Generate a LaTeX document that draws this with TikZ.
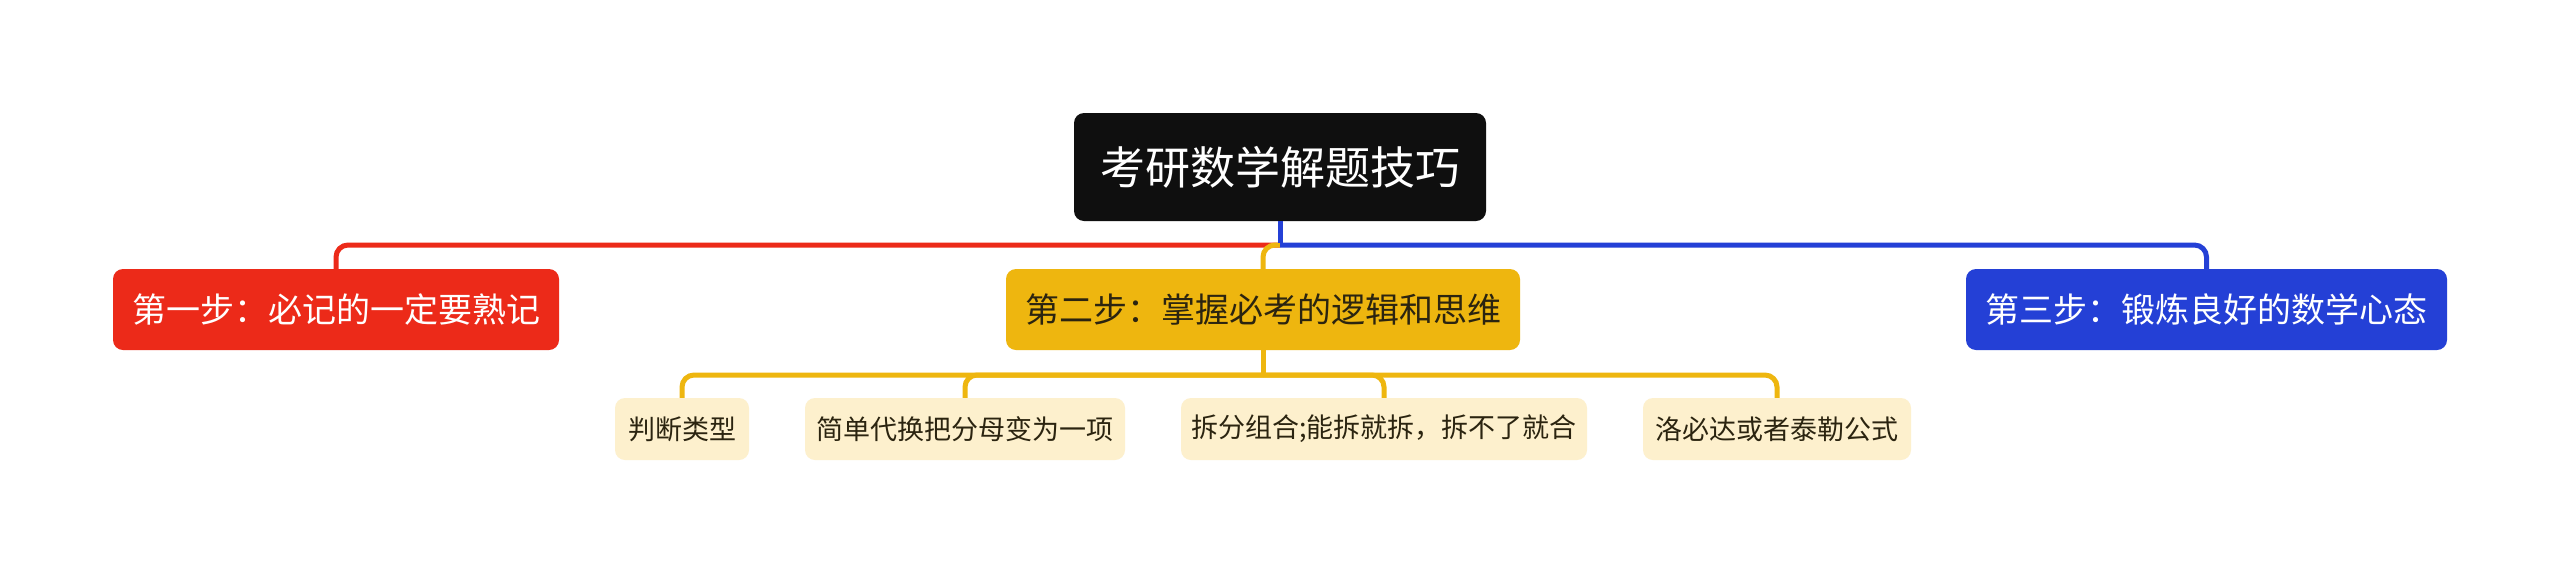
\documentclass[tikz,border=0pt]{standalone}
\usepackage{fontspec}
\newfontfamily\cjk{Noto Sans CJK SC}
\definecolor{rootfill}{HTML}{0F0F0F}
\definecolor{redc}{HTML}{EC2A19}
\definecolor{yelc}{HTML}{EEB60F}
\definecolor{bluec}{HTML}{2440D6}
\definecolor{leaffill}{HTML}{FDF0CD}
\definecolor{darktext}{HTML}{2B2410}
\tikzset{
  box/.style={rounded corners=10pt, inner sep=0pt, align=center, font=\cjk},
  rootbox/.style={box, fill=rootfill, text=white, minimum width=412pt, minimum height=108pt, font=\cjk\fontsize{45}{54}\selectfont},
  mainbox/.style={box, minimum height=81pt, font=\cjk\fontsize{34}{40}\selectfont},
  leafbox/.style={box, fill=leaffill, text=darktext, minimum height=62pt, font=\cjk\fontsize{27}{32}\selectfont},
  conn/.style={line width=5pt, rounded corners=12pt}
}
\begin{document}
\begin{tikzpicture}[x=1pt,y=-1pt]
\useasboundingbox[fill=white] (0,0) rectangle (2560,574);
\node[rootbox] (root) at (1280,167) {考研数学解题技巧};
\node[mainbox, fill=redc, text=white, minimum width=446pt] (s1) at (336,309.5) {第一步：必记的一定要熟记};
\node[mainbox, fill=yelc, text=darktext, minimum width=514pt] (s2) at (1263,309.5) {第二步：掌握必考的逻辑和思维};
\node[mainbox, fill=bluec, text=white, minimum width=481pt] (s3) at (2206.5,309.5) {第三步：锻炼良好的数学心态};
\node[leafbox, minimum width=134pt] (l1) at (682,429) {判断类型};
\node[leafbox, minimum width=320pt] (l2) at (965,429) {简单代换把分母变为一项};
\node[leafbox, minimum width=406pt] (l3) at (1384,429) {拆分组合;能拆就拆，拆不了就合};
\node[leafbox, minimum width=268pt] (l4) at (1777,429) {洛必达或者泰勒公式};
\coordinate (j) at (1280,245);
\coordinate (k) at (1263,375);
\draw[conn, redc] (j) -| (s1.north);
\draw[conn, yelc] (j) -| (s2.north);
\draw[conn, bluec] (j) -| (s3.north);
\draw[line width=5pt, bluec] (root.south) -- ([yshift=2.5pt]j);
\draw[conn, yelc] (s2.south) -- (k);
\draw[conn, yelc] (k) -| (l1.north);
\draw[conn, yelc] (k) -| (l2.north);
\draw[conn, yelc] (k) -| (l3.north);
\draw[conn, yelc] (k) -| (l4.north);
\end{tikzpicture}
\end{document}
